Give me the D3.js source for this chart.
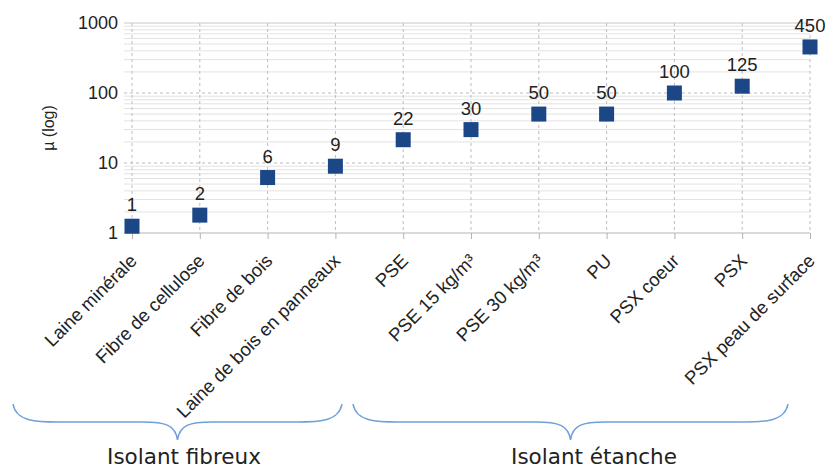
<!DOCTYPE html>
<html>
<head>
<meta charset="utf-8">
<script src="https://cdn.jsdelivr.net/npm/d3@7"></script>
<style>
  body { margin: 0; background: #fff; }
  text { font-family: "Liberation Sans", Arial, sans-serif; fill: #222; }
  .group-label { font-family: "DejaVu Sans", Verdana, sans-serif; }
</style>
</head>
<body>
<div id="chart"></div>
<script>
// categories (x axis)
const materials = ["Laine minérale", "Fibre de cellulose", "Fibre de bois", "Laine de bois en panneaux",
  "PSE", "PSE 15 kg/m³", "PSE 30 kg/m³", "PU", "PSX coeur", "PSX", "PSX peau de surface"];
// plotted µ values (as placed on the log scale)
const muValues = [1.25, 1.8, 6.2, 9, 21.5, 30, 50, 50, 100, 125, 455];
// labels written above each point
const muLabels = ["1", "2", "6", "9", "22", "30", "50", "50", "100", "125", "450"];
const yTicks = [1, 10, 100, 1000];
// groups of materials for the braces underneath
const groups = ["Isolant fibreux", "Isolant étanche"];

const width = 827, height = 468;
const plot = {left: 124, right: 810, top: 23, bottom: 233};

const svg = d3.select('#chart').append('svg')
  .attr('width', width)
  .attr('height', height);

const xScale = d3.scaleLinear()
  .domain([0, materials.length - 1])
  .range([132, plot.right]);

const yScale = d3.scaleLog()
  .domain([1, 1000])
  .range([plot.bottom, plot.top]);

// minor gridlines (2..9 in each decade)
const minor = [];
for (let p = 1; p < 1000; p *= 10) {
  for (let k = 2; k <= 9; k++) minor.push(k * p);
}
svg.append('g').selectAll('line')
  .data(minor)
  .join('line')
  .attr('x1', plot.left).attr('x2', plot.right)
  .attr('y1', d => yScale(d)).attr('y2', d => yScale(d))
  .attr('stroke', '#e2e2e2')
  .attr('stroke-width', 1);

// major gridlines (dashed)
svg.append('g').selectAll('line')
  .data([10, 100])
  .join('line')
  .attr('x1', plot.left).attr('x2', plot.right)
  .attr('y1', d => yScale(d)).attr('y2', d => yScale(d))
  .attr('stroke', '#bdbdbd')
  .attr('stroke-dasharray', '3,3');

// vertical gridlines
svg.append('g').selectAll('line')
  .data(materials.map((d, i) => i))
  .join('line')
  .attr('x1', d => xScale(d)).attr('x2', d => xScale(d))
  .attr('y1', plot.top).attr('y2', plot.bottom)
  .attr('stroke', '#bdbdbd')
  .attr('stroke-dasharray', '3,3');

// top border
svg.append('line')
  .attr('x1', plot.left).attr('x2', plot.right)
  .attr('y1', yScale(1000)).attr('y2', yScale(1000))
  .attr('stroke', '#c8c8c8');

// x axis
const xAxis = d3.axisBottom(xScale)
  .tickValues(materials.map((d, i) => i))
  .tickSize(6)
  .tickFormat('');
const xAxisGroup = svg.append('g')
  .attr('transform', `translate(0,${plot.bottom})`)
  .call(xAxis);
xAxisGroup.select('.domain').attr('d', `M${plot.left},0H${plot.right}`).attr('stroke', '#b3b3b3');
xAxisGroup.selectAll('.tick line').attr('stroke', '#b3b3b3');

// x labels, rotated
svg.append('g').selectAll('text')
  .data(materials)
  .join('text')
  .attr('text-anchor', 'end')
  .attr('font-size', 18.5)
  .attr('transform', (d, i) => `translate(${xScale(i) + 6},${plot.bottom + 29}) rotate(-45)`)
  .text(d => d);

// y axis labels
const yAxis = d3.axisLeft(yScale)
  .tickValues(yTicks)
  .tickSize(0)
  .tickPadding(6)
  .tickFormat(d3.format('d'));
const yAxisGroup = svg.append('g')
  .attr('transform', `translate(${plot.left},0)`)
  .call(yAxis);
yAxisGroup.select('.domain').remove();
yAxisGroup.selectAll('text')
  .attr('font-size', 18)
  .attr('font-family', '"Liberation Sans", Arial, sans-serif')
  .attr('fill', '#222');

svg.append('text')
  .attr('text-anchor', 'middle')
  .attr('font-size', 16)
  .attr('transform', `translate(54,${(plot.top + plot.bottom) / 2}) rotate(-90)`)
  .text('µ (log)');

// points
const sq = 15;
svg.append('g').selectAll('rect')
  .data(muValues)
  .join('rect')
  .attr('x', (d, i) => xScale(i) - sq / 2)
  .attr('y', d => yScale(d) - sq / 2)
  .attr('width', sq)
  .attr('height', sq)
  .attr('fill', '#1b4787');

// value labels
svg.append('g').selectAll('text')
  .data(muValues)
  .join('text')
  .attr('text-anchor', 'middle')
  .attr('font-size', 18.5)
  .attr('x', (d, i) => xScale(i))
  .attr('y', d => yScale(d) - 15)
  .text((d, i) => muLabels[i]);

// braces
const braceTop = 404, braceMid = 422, braceTip = 440;
function bracePath(x0, x1) {
  const xm = (x0 + x1) / 2;
  return `M${x0},${braceTop}` +
    `C${x0 + 3},${braceMid} ${x0 + 25},${braceMid} ${x0 + 45},${braceMid}` +
    `L${xm - 35},${braceMid}` +
    `C${xm - 12},${braceMid} ${xm - 2},${braceMid + 3} ${xm},${braceTip}` +
    `C${xm + 2},${braceMid + 3} ${xm + 12},${braceMid} ${xm + 35},${braceMid}` +
    `L${x1 - 45},${braceMid}` +
    `C${x1 - 25},${braceMid} ${x1 - 3},${braceMid} ${x1},${braceTop}`;
}
const braceX0 = [13, 353];
const braceX1 = [342, 788];
svg.append('g').selectAll('path')
  .data(groups)
  .join('path')
  .attr('d', (d, i) => bracePath(braceX0[i], braceX1[i]))
  .attr('fill', 'none')
  .attr('stroke', '#6fa0d8')
  .attr('stroke-width', 1.5);

const groupCenter = [184, 594];
svg.append('g').selectAll('text')
  .data(groups)
  .join('text')
  .attr('class', 'group-label')
  .attr('text-anchor', 'middle')
  .attr('font-size', 21.5)
  .attr('x', (d, i) => groupCenter[i])
  .attr('y', 464)
  .text(d => d);
</script>
</body>
</html>
